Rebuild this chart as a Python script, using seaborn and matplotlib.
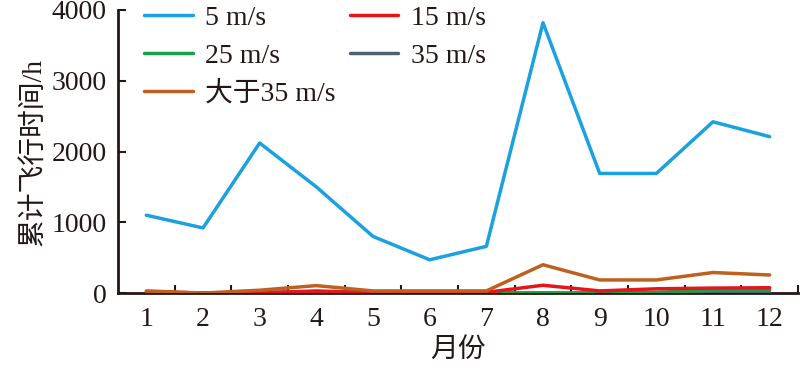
import numpy as np
import pandas as pd
import matplotlib
matplotlib.use('Agg')
import matplotlib.pyplot as plt
import seaborn as sns

# 数据：各风速等级下每月累计飞行时间
months = list(range(1, 13))
v5 = [1100, 920, 2120, 1500, 800, 470, 660, 3820, 1690, 1690, 2420, 2210]
v15 = [20, 0, 10, 20, 10, 10, 10, 110, 30, 60, 70, 75]
v25 = [0, 0, 0, 10, 0, 0, 0, 0, 0, 10, 40, 40]
v35 = [0, 0, 0, 30, 5, 0, 0, 0, 0, 0, 5, 5]
v35p = [30, 0, 40, 105, 30, 30, 30, 400, 185, 185, 290, 255]

series = ['5 m/s', '15 m/s', '25 m/s', '35 m/s', '大于35 m/s']
colors = ['#1ba1e2', '#e8141b', '#1a9e48', '#4a6273', '#c0601e']

df = pd.DataFrame({
    '月份': months * 5,
    '时间': v5 + v15 + v25 + v35 + v35p,
    '风速': sum([[s] * 12 for s in series], []),
})

sns.set_theme(style='ticks')
plt.rcParams['font.family'] = ['Liberation Serif', 'Noto Sans CJK SC']
plt.rcParams['axes.unicode_minus'] = False

fs = 20
txt = '#231815'
fig = plt.figure(figsize=(8, 3.7), dpi=100)
ax = fig.add_axes([0.1475, 0.208, 0.85, 0.765])

# 画线顺序：大于35在红线之上
order = ['35 m/s', '25 m/s', '15 m/s', '大于35 m/s', '5 m/s']
sns.lineplot(data=df, x='月份', y='时间', hue='风速', hue_order=series,
             palette=dict(zip(series, colors)), linewidth=2.5, ax=ax, legend=True)
for ln, s in zip(ax.lines, series):
    ln.set_zorder(3 + order.index(s))

ax.set_xlim(0.5, 12.5)
ax.set_ylim(0, 4000)
ax.set_xticks(months)
ax.set_xticks([m + 0.5 for m in months], minor=True)
ax.tick_params(axis='x', which='major', length=0, labelsize=fs, pad=10, labelcolor=txt)
ax.tick_params(axis='x', which='minor', direction='in', length=6, width=1.5, color=txt)
ax.set_yticks([0, 1000, 2000, 3000, 4000])
ax.tick_params(axis='y', direction='in', length=6, width=1.5, labelsize=fs, color=txt,
               labelcolor=txt, pad=8)
for side in ['top', 'right']:
    ax.spines[side].set_visible(False)
for side in ['left', 'bottom']:
    ax.spines[side].set_linewidth(2)
    ax.spines[side].set_color(txt)

ax.set_xlabel('月份', fontsize=fs, color=txt, labelpad=4)
ax.set_ylabel('累计飞行时间/h', fontsize=fs, color=txt, labelpad=4)

# 图例：两列，第一列 5/25/大于35，第二列 15/35
h, l = ax.get_legend_handles_labels()
lk = dict(zip(l, h))
leg_order = ['5 m/s', '25 m/s', '大于35 m/s', '15 m/s', '35 m/s']
ax.legend([lk[k] for k in leg_order], leg_order, ncol=2, loc='upper left',
          bbox_to_anchor=(0.022, 1.055), frameon=False, fontsize=fs,
          handlelength=1.75, handletextpad=0.45, labelspacing=0.45, columnspacing=0.5,
          borderaxespad=0)
for t in ax.get_legend().get_texts():
    t.set_color(txt)

fig.savefig('out.png', dpi=100)
